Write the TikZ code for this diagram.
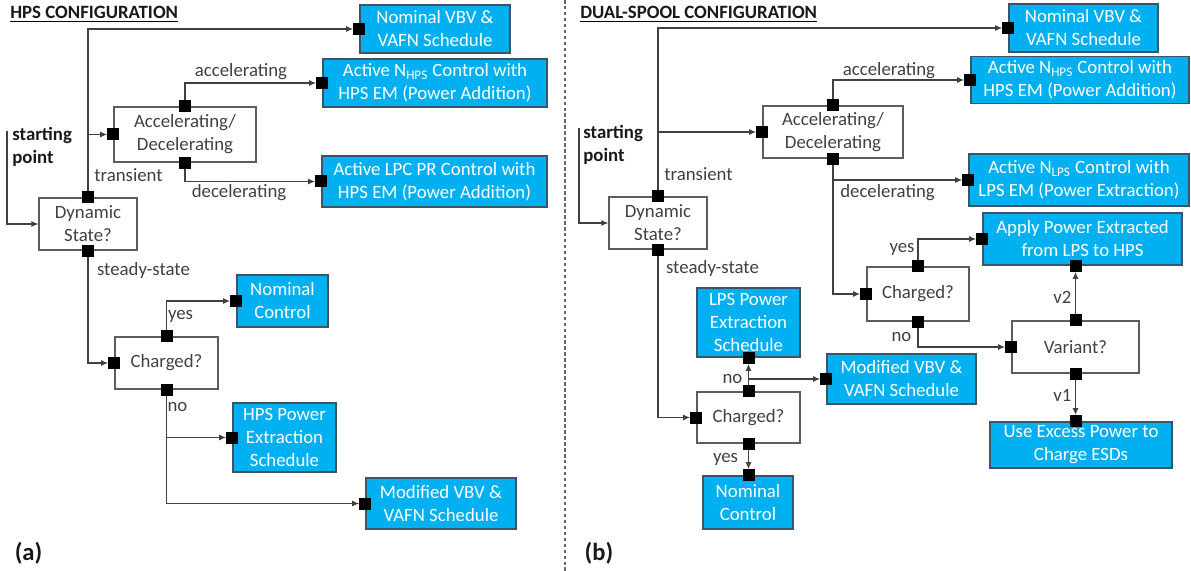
\documentclass[tikz,border=0pt]{standalone}
\usepackage{fontspec}
\setmainfont{Carlito}
\usepackage{tikz}
\usetikzlibrary{arrows.meta}
\definecolor{boxblue}{RGB}{0,176,240}
\definecolor{boxline}{RGB}{60,84,104}
\definecolor{ink}{RGB}{64,64,64}
\newcommand*{\px}{0.02cm}
\newcommand*{\txt}{\fontsize{10.7}{13.1}\selectfont}
\tikzset{%
  dims/.style 2 args={minimum width=#1*\px, minimum height=#2*\px},% size in pixels
  block/.style={draw=ink!85, line width=0.6pt, inner sep=0pt, align=center,
    text=ink, font=\txt},% white decision box
  action/.style={block, draw=boxline, fill=boxblue, text=white},% blue outcome box
  port/.style={fill=black, inner sep=0pt, minimum size=12*\px},% black square at line ends
  flow/.style={draw=ink, line width=0.6pt, -{Latex[length=4pt,width=3.4pt]}},% connector
  lbl/.style={text=ink, inner sep=0pt, font=\txt},% branch label
  title/.style={text=black!90, inner sep=0pt, font=\txt\bfseries},% panel title
  sep/.style={draw=ink!80, line width=0.6pt, dash pattern=on 2pt off 1.4pt}% panel divider
}

\begin{document}
\begin{tikzpicture}[x=\px, y=-\px]
\useasboundingbox (0,0) rectangle (1191,571);

%% (a) HPS configuration
\node[title, anchor=base west] (ttlA) at (10,19) {HPS CONFIGURATION};
\draw[line width=0.6pt] ([yshift=-1.3pt]ttlA.base west) -- ([yshift=-1.3pt]ttlA.base east);

\node[action, dims={150}{48}] (nomA) at (435,29) {Nominal VBV \&\\VAFN Schedule};
\node[action, dims={224}{48}] (nhpsA) at (435,83) {Active N\textsubscript{HPS} Control with\\HPS EM (Power Addition)};
\node[block, dims={142}{55}] (accA) at (185,134.5) {Accelerating/\\Decelerating};
\node[action, dims={225}{51}] (lpcA) at (434.5,181.5) {Active LPC PR Control with\\HPS EM (Power Addition)};
\node[block, dims={98}{52}] (dynA) at (88,224) {Dynamic\\State?};
\node[action, dims={91}{52}] (nomcA) at (282.5,301) {Nominal\\Control};
\node[block, dims={103}{52}] (chgA) at (166.5,363) {Charged?};
\node[action, dims={103}{69}] (hpspA) at (284.5,437.5) {HPS Power\\Extraction\\Schedule};
\node[action, dims={150}{51}] (modA) at (441,503.5) {Modified VBV \&\\VAFN Schedule};

\node[port] (nomA-w) at (nomA.west) {};
\node[port] (nhpsA-w) at (nhpsA.west) {};
\node[port] (accA-w) at (accA.west) {};
\node[port] (accA-n) at (accA.north) {};
\node[port] (accA-s) at (accA.south) {};
\node[port] (lpcA-w) at (lpcA.west) {};
\node[port] (dynA-n) at (dynA.north) {};
\node[port] (dynA-s) at (dynA.south) {};
\node[port] (nomcA-w) at (nomcA.west) {};
\node[port] (chgA-w) at (chgA.west) {};
\node[port] (chgA-n) at (chgA.north) {};
\node[port] (chgA-s) at (chgA.south) {};
\node[port] (hpspA-w) at (hpspA.west) {};
\node[port] (modA-w) at (modA.west) {};

\coordinate (startA) at (7,131);
\draw[flow] (startA) |- (dynA.west);
\draw[flow] (dynA-n) |- (nomA-w);
\draw[flow] (dynA-n |- accA-w) -- (accA-w);
\draw[flow] (accA-n) |- (nhpsA-w);
\draw[flow] (accA-s) |- (lpcA-w);
\draw[flow] (dynA-s) |- (chgA-w);
\draw[flow] (chgA-n) |- (nomcA-w);
\draw[flow] (chgA-s) |- (modA-w);
\draw[flow] (chgA-s |- hpspA-w) -- (hpspA-w);

\node[lbl, font=\txt\bfseries, text=black!90, anchor=west, align=left] (startA-l) at (12,147) {starting\\point};
\node[lbl] (accA-l) at (241,72) {accelerating};
\node[lbl] (decA-l) at (239,193) {decelerating};
\node[lbl] (trnA-l) at (128.5,175) {transient};
\node[lbl] (stdA-l) at (143.5,270) {steady-state};
\node[lbl] (yesA-l) at (180.5,316) {yes};
\node[lbl] (noA-l) at (177.5,407) {no};
\node[title, font=\fontsize{14}{16}\selectfont\bfseries] (capA) at (28.5,553) {(a)};

\draw[sep] (565,0) -- (565,571);

%% (b) dual-spool configuration
\node[title, anchor=base west] (ttlB) at (580,19) {DUAL-SPOOL CONFIGURATION};
\draw[line width=0.6pt] ([yshift=-1.3pt]ttlB.base west) -- ([yshift=-1.3pt]ttlB.base east);

\node[action, dims={149}{48}] (nomB) at (1083.5,28) {Nominal VBV \&\\VAFN Schedule};
\node[action, dims={218}{47}] (nhpsB) at (1080,80) {Active N\textsubscript{HPS} Control with\\HPS EM (Power Addition)};
\node[block, dims={140}{52}] (accB) at (833,132) {Accelerating/\\Decelerating};
\node[action, dims={220}{52}] (nlpsB) at (1079,180) {Active N\textsubscript{LPS} Control with\\LPS EM (Power Extraction)};
\node[block, dims={98}{52}] (dynB) at (658,223) {Dynamic\\State?};
\node[action, dims={199}{52}] (applyB) at (1082.5,239) {Apply Power Extracted\\from LPS to HPS};
\node[block, dims={102}{54}] (chg1B) at (918,294) {Charged?};
\node[block, dims={127}{52}] (varB) at (1075.5,347) {Variant?};
\node[action, dims={182}{46}] (useB) at (1081,445) {Use Excess Power to\\Charge ESDs};
\node[action, dims={103}{69}] (lpspB) at (748.5,322.5) {LPS Power\\Extraction\\Schedule};
\node[action, dims={149}{50}] (modB) at (901.5,379) {Modified VBV \&\\VAFN Schedule};
\node[block, dims={103}{51}] (chg2B) at (748.5,417.5) {Charged?};
\node[action, dims={90}{53}] (nomcB) at (748,502.5) {Nominal\\Control};

\node[port] (nomB-w) at (nomB.west) {};
\node[port] (nhpsB-w) at (nhpsB.west) {};
\node[port] (accB-w) at (accB.west) {};
\node[port] (accB-n) at (accB.north) {};
\node[port] (accB-s) at (accB.south) {};
\node[port] (nlpsB-w) at (nlpsB.west) {};
\node[port] (dynB-n) at (dynB.north) {};
\node[port] (dynB-s) at (dynB.south) {};
\node[port] (applyB-w) at (applyB.west) {};
\node[port] (applyB-s) at (varB.north |- applyB.south) {};
\node[port] (chg1B-w) at (chg1B.west) {};
\node[port] (chg1B-n) at (chg1B.north) {};
\node[port] (chg1B-s) at (chg1B.south) {};
\node[port] (varB-w) at (varB.west) {};
\node[port] (varB-n) at (varB.north) {};
\node[port] (varB-s) at (varB.south) {};
\node[port] (useB-n) at (varB.south |- useB.north) {};
\node[port] (lpspB-s) at (lpspB.south) {};
\node[port] (modB-w) at (modB.west) {};
\node[port] (chg2B-w) at (chg2B.west) {};
\node[port] (chg2B-n) at (chg2B.north) {};
\node[port] (chg2B-s) at (chg2B.south) {};
\node[port] (nomcB-n) at (chg2B.south |- nomcB.north) {};

\coordinate (startB) at (579,128);
\draw[flow] (startB) |- (dynB.west);
\draw[flow] (dynB-n) |- (nomB-w);
\draw[flow] (dynB-n |- accB-w) -- (accB-w);
\draw[flow] (accB-n) |- (nhpsB-w);
\draw[flow] (accB-s) |- (chg1B-w);
\draw[flow] (accB-s |- nlpsB-w) -- (nlpsB-w);
\draw[flow] (chg1B-n) |- (applyB-w);
\draw[flow] (chg1B-s) |- (varB-w);
\draw[flow] (varB-n) -- (applyB-s);
\draw[flow] (varB-s) -- (useB-n);
\draw[flow] (dynB-s) |- (chg2B-w);
\draw[flow] (chg2B-n) -- (lpspB-s);
\draw[flow] (chg2B-n |- modB-w) -- (modB-w);
\draw[flow] (chg2B-s) -- (nomcB-n);

\node[lbl, font=\txt\bfseries, text=black!90, anchor=west, align=left] (startB-l) at (583,145) {starting\\point};
\node[lbl] (trnB-l) at (698.5,174) {transient};
\node[lbl] (stdB-l) at (712.5,268) {steady-state};
\node[lbl] (accB-l) at (889,71) {accelerating};
\node[lbl] (decB-l) at (887.5,193) {decelerating};
\node[lbl] (yes1B-l) at (902,249) {yes};
\node[lbl] (no1B-l) at (901.5,337) {no};
\node[lbl] (v2B-l) at (1062.5,297) {v2};
\node[lbl] (v1B-l) at (1062.5,395) {v1};
\node[lbl] (no2B-l) at (732.5,379) {no};
\node[lbl] (yes2B-l) at (725.5,459) {yes};
\node[title, font=\fontsize{14}{16}\selectfont\bfseries] (capB) at (599,553) {(b)};
\end{tikzpicture}
\end{document}
